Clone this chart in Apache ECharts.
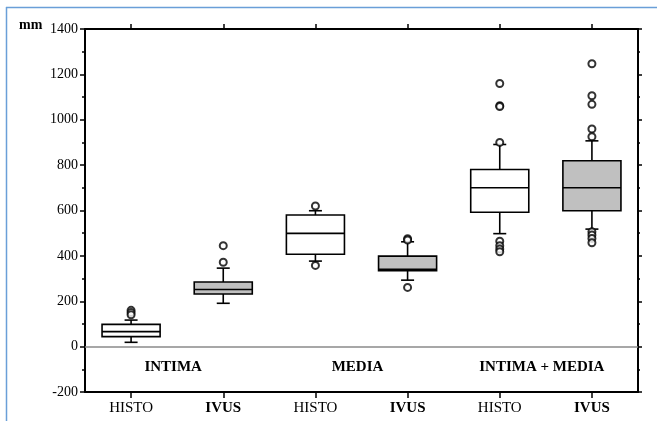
<!DOCTYPE html>
<html><head><meta charset="utf-8">
<script src="https://cdn.jsdelivr.net/npm/echarts@6/dist/echarts.min.js"></script>
<style>html,body{margin:0;padding:0;background:#fff}#c{width:657px;height:421px}</style>
</head><body><div id="c"></div>
<script>
const categories = ['HISTO','IVUS','HISTO','IVUS','HISTO','IVUS'];
const whiskerLow  = [19, 191, 377, 293, 498, 518];
const q1          = [44, 232, 407, 335, 592, 599];
const median      = [66, 252, 499, 341, 700, 700];
const q3          = [98, 285, 580, 399, 781, 819];
const whiskerHigh = [117, 346, 599, 462, 891, 907];
const outliers = [
  [160, 150, 140],
  [445, 372],
  [620, 358],
  [476, 470, 261],
  [1160, 1062, 1058, 900, 465, 445, 430, 418],
  [1247, 1106, 1068, 959, 925, 506, 492, 477, 458]
];
const groupLabels = ['INTIMA', 'MEDIA', 'INTIMA + MEDIA'];
const groupSpans = [[0, 1], [2, 3], [4, 5]];
const yTicks = {min: -200, max: 1400, interval: 200};

const FONT = 'Liberation Serif';
const boxData = categories.map((c, i) => [i, whiskerLow[i], q1[i], median[i], q3[i], whiskerHigh[i]]);
const outlierData = [];
outliers.forEach((arr, i) => arr.forEach(v => outlierData.push([i, v])));
const labelData = groupSpans.map(s => [s[0], s[1], 0]);

const chart = echarts.init(document.getElementById('c'), null, {renderer: 'canvas'});
const axisLine = {show: true, onZero: false, lineStyle: {color: '#000', width: 2}};
chart.setOption({
  animation: false,
  backgroundColor: '#fff',
  grid: {left: 85, right: 19, top: 29, bottom: 29, containLabel: false},
  xAxis: [
    {type: 'category', data: categories, position: 'bottom', boundaryGap: true,
     axisLine: axisLine, axisTick: {show: true, alignWithLabel: true, length: 6, lineStyle: {color: '#000', width: 1.5}},
     axisLabel: {margin: 9, formatter: (v) => v === 'IVUS' ? '{b|' + v + '}' : '{n|' + v + '}',
       rich: {b: {fontFamily: FONT, fontSize: 15, fontWeight: 'bold', color: '#000'},
              n: {fontFamily: FONT, fontSize: 15, color: '#000'}}},
     splitLine: {show: false}},
    {type: 'category', data: categories, position: 'top', boundaryGap: true,
     axisLine: axisLine, axisTick: {show: true, alignWithLabel: true, length: 5, lineStyle: {color: '#000', width: 1.5}},
     axisLabel: {show: false}, splitLine: {show: false}}
  ],
  yAxis: [
    {type: 'value', min: yTicks.min, max: yTicks.max, interval: yTicks.interval, position: 'left',
     axisLine: axisLine, axisTick: {show: true, length: 5, lineStyle: {color: '#000', width: 1.5}},
     minorTick: {show: true, splitNumber: 2, length: 3, lineStyle: {color: '#000', width: 1.5}},
     axisLabel: {margin: 7, fontFamily: FONT, fontSize: 14, color: '#000', formatter: (v) => String(v)},
     splitLine: {show: false}},
    {type: 'value', min: yTicks.min, max: yTicks.max, interval: yTicks.interval, position: 'right',
     axisLine: axisLine, axisTick: {show: true, length: 4, lineStyle: {color: '#000', width: 1.5}},
     minorTick: {show: true, splitNumber: 2, length: 2, lineStyle: {color: '#000', width: 1.5}},
     axisLabel: {show: false}, splitLine: {show: false}}
  ],
  graphic: [
    {type: 'line', shape: {x1: 6, y1: 7.5, x2: 657, y2: 7.5}, style: {stroke: '#6a9fd8', lineWidth: 1.5}, z: 100},
    {type: 'line', shape: {x1: 6.5, y1: 7, x2: 6.5, y2: 421}, style: {stroke: '#6a9fd8', lineWidth: 1.5}, z: 100},
    {type: 'text', left: 19, top: 18, style: {text: 'mm', fontFamily: FONT, fontSize: 14, fontWeight: 'bold', fill: '#000'}}
  ],
  series: [
    {type: 'custom', name: 'box', xAxisIndex: 0, yAxisIndex: 0, data: boxData,
     encode: {x: 0, y: [1, 2, 3, 4, 5]}, z: 3,
     markLine: {silent: true, symbol: 'none', label: {show: false},
       lineStyle: {color: '#8a8a8a', width: 1.5, type: 'solid'}, data: [{yAxis: 0}]},
     renderItem: function (params, api) {
       const x = api.value(0);
       const lo = api.coord([x, api.value(1)]);
       const b1 = api.coord([x, api.value(2)]);
       const md = api.coord([x, api.value(3)]);
       const b3 = api.coord([x, api.value(4)]);
       const hi = api.coord([x, api.value(5)]);
       const bw = api.size([1, 0])[0] * 0.63;
       const cw = 13;
       const cx = lo[0];
       const fill = x % 2 ? '#c0c0c0' : '#ffffff';
       const ls = {stroke: '#000', lineWidth: 1.6};
       return {type: 'group', children: [
         {type: 'line', shape: {x1: cx, y1: hi[1], x2: cx, y2: b3[1]}, style: ls},
         {type: 'line', shape: {x1: cx, y1: b1[1], x2: cx, y2: lo[1]}, style: ls},
         {type: 'line', shape: {x1: cx - cw / 2, y1: hi[1], x2: cx + cw / 2, y2: hi[1]}, style: ls},
         {type: 'line', shape: {x1: cx - cw / 2, y1: lo[1], x2: cx + cw / 2, y2: lo[1]}, style: ls},
         {type: 'rect', shape: {x: cx - bw / 2, y: b3[1], width: bw, height: b1[1] - b3[1]}, style: {fill: fill, stroke: '#000', lineWidth: 1.6}},
         {type: 'line', shape: {x1: cx - bw / 2, y1: md[1], x2: cx + bw / 2, y2: md[1]}, style: ls}
       ]};
     }},
    {type: 'scatter', name: 'outliers', xAxisIndex: 0, yAxisIndex: 0, data: outlierData,
     symbol: 'emptyCircle', symbolSize: 7, z: 4,
     itemStyle: {color: '#000', borderColor: '#000', borderWidth: 1.6}},
    {type: 'custom', name: 'groups', xAxisIndex: 0, yAxisIndex: 0, data: labelData,
     encode: {x: [0, 1], y: 2}, z: 5,
     renderItem: function (params, api) {
       const p1 = api.coord([api.value(0), api.value(2)]);
       const p2 = api.coord([api.value(1), api.value(2)]);
       return {type: 'text', x: (p1[0] + p2[0]) / 2 - 4, y: p1[1] + 20,
         style: {text: groupLabels[params.dataIndex], fontFamily: FONT, fontSize: 15, fontWeight: 'bold',
                 fill: '#000', align: 'center', verticalAlign: 'middle'}};
     }}
  ]
});
</script></body></html>
